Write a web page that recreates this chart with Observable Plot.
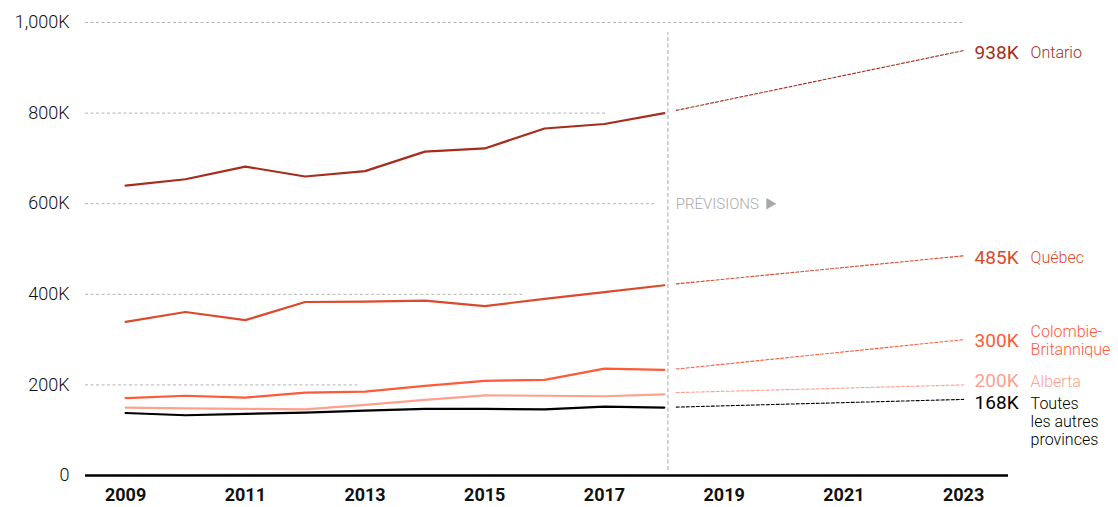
<!DOCTYPE html>
<html><head><meta charset="utf-8">
<script src="https://cdn.jsdelivr.net/npm/d3@7"></script>
<script src="https://cdn.jsdelivr.net/npm/@observablehq/plot@0.6"></script>
<style>body{margin:0;background:#fff}</style>
</head><body><div id="chart"></div>
<script>
// ---- data ----
const years = [2009, 2010, 2011, 2012, 2013, 2014, 2015, 2016, 2017, 2018];
const ontario = [640, 654, 682, 660, 672, 715, 722, 766, 776, 800];
const quebec = [339, 361, 343, 383, 384, 386, 374, 390, 405, 420];
const colombieBritannique = [171, 176, 172, 183, 185, 198, 209, 211, 236, 233];
const alberta = [150, 148, 147, 146, 156, 167, 177, 176, 175, 179];
const autres = [138, 133, 136, 139, 143, 147, 147, 146, 152, 150];

const forecastYears = [2018.2, 2023];
const ontarioForecast = [806, 938];
const quebecForecast = [423, 485];
const cbForecast = [235, 300];
const albertaForecast = [183, 200];
const autresForecast = [151, 168];

const seriesNames = ["Ontario", "Québec", "Colombie-\nBritannique", "Alberta", "Toutes\nles autres\nprovinces"];
const endLabels = ["938K", "485K", "300K", "200K", "168K"];
const colors = ["#a62c1b", "#dc4a2e", "#ff5a38", "#ffa08e", "#000000"];

const yTicks = [0, 200, 400, 600, 800, 1000];
const xTicks = [2009, 2011, 2013, 2015, 2017, 2019, 2021, 2023];
const gridValues = [200, 400, 600, 800, 1000];
const gridEnds = [2012.88, 2015.63, 2017.85, 2017.05, 2023];
const forecastDivider = 2018.06;
const forecastLabel = "PRÉVISIONS";

// ---- build ----
const history = [ontario, quebec, colombieBritannique, alberta, autres];
const forecasts = [ontarioForecast, quebecForecast, cbForecast, albertaForecast, autresForecast];
const labelDy = [2, 2, 1, -4, 4];
const nameDy = [2, 2, 1, -4, 22];

const xDomain = [2008.33, 2023.75];
const grid = gridValues.map((v, i) => ({v, x1: xDomain[0], x2: gridEnds[i]}));

const marks = [
  Plot.ruleY(grid, {y: "v", x1: "x1", x2: "x2", stroke: "#b3b3b3", strokeWidth: 1, strokeDasharray: "3,2.5"}),
  Plot.ruleX([forecastDivider], {y1: 11, y2: 978, stroke: "#a8a8a8", strokeWidth: 1, strokeDasharray: "4,2.5"}),
  Plot.text([forecastLabel], {x: 2018.19, y: 600, text: d => d, textAnchor: "start", fill: "#a9a9a9", fontSize: 15, fontWeight: 300, fontFamily: "Roboto"}),
  Plot.dot([0], {x: 2019.76, y: 600, symbol: "triangle", r: 4.3, rotate: 90, fill: "#a9a9a9", stroke: null}),
  Plot.ruleY([0], {x1: xDomain[0], x2: xDomain[1], stroke: "#000", strokeWidth: 2.5}),
  Plot.axisY({ticks: yTicks, tickSize: 0, tickPadding: 16, label: null,
    tickFormat: d => d === 0 ? "0" : d3.format(",")(d) + "K", fontSize: 18, fontWeight: 300, fill: "#111"}),
  Plot.axisX({ticks: xTicks, tickSize: 0, tickPadding: 13, label: null,
    tickFormat: d => String(d), fontSize: 18, fontWeight: "bold", fill: "#111"})
];

history.forEach((vals, i) => {
  const data = years.map((y, j) => ({year: y, value: vals[j]}));
  marks.push(Plot.line(data, {x: "year", y: "value", stroke: colors[i], strokeWidth: 2.2}));
});
forecasts.forEach((vals, i) => {
  const data = forecastYears.map((y, j) => ({year: y, value: vals[j]}));
  marks.push(Plot.line(data, {x: "year", y: "value", stroke: colors[i], strokeWidth: 1.1, strokeDasharray: "3,2"}));
  const end = {year: forecastYears[1], value: vals[1]};
  marks.push(Plot.text([end], {x: "year", y: "value", text: () => endLabels[i], dx: 11, dy: labelDy[i],
    textAnchor: "start", fill: colors[i], fontSize: 19, fontWeight: 400, fontFamily: "Roboto"}));
  marks.push(Plot.text([end], {x: "year", y: "value", text: () => seriesNames[i], dx: 67, dy: nameDy[i],
    textAnchor: "start", fill: colors[i], fontSize: 16, fontWeight: 300, lineHeight: 1.1, fontFamily: "Roboto"}));
});

const chart = Plot.plot({
  width: 1118,
  height: 507,
  marginLeft: 85,
  marginRight: 110,
  marginTop: 22,
  marginBottom: 32,
  style: {fontFamily: "Roboto, sans-serif", background: "#fff", overflow: "visible"},
  x: {domain: xDomain},
  y: {domain: [0, 1000]},
  marks
});
document.getElementById("chart").appendChild(chart);
</script>
</body></html>
